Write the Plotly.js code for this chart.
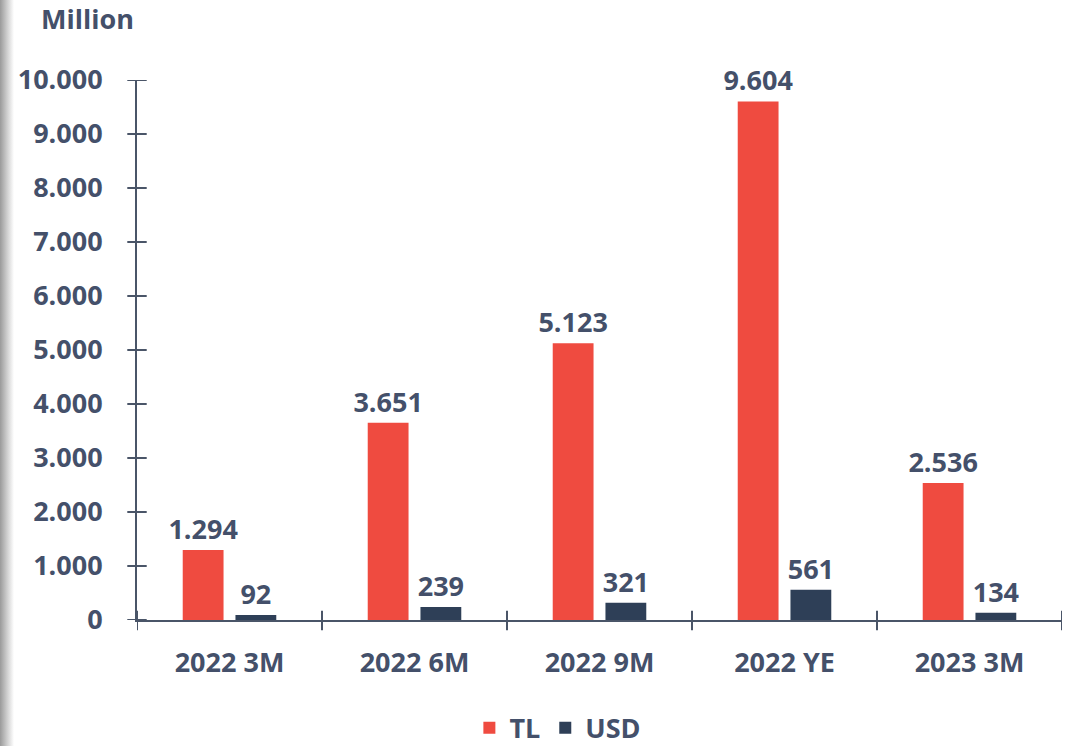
<!DOCTYPE html>
<html><head><meta charset="utf-8">
<script src="https://cdn.plot.ly/plotly-3.0.1.min.js"></script>
<style>
html,body{margin:0;padding:0;background:#fff;}
#wrap{position:relative;width:1069px;height:746px;}
#shade{position:absolute;left:0;top:0;width:14px;height:746px;background:linear-gradient(to right,#9a9a9a,#d8d8d8 60%,#fff);z-index:2;}
#chart{position:absolute;left:0;top:0;width:1069px;height:746px;}
</style></head>
<body><div id="wrap"><div id="shade"></div><div id="chart"></div></div>
<script>
const categories = ['2022 3M','2022 6M','2022 9M','2022 YE','2023 3M'];
const tlValues = [1294, 3651, 5123, 9604, 2536];
const usdValues = [92, 239, 321, 561, 134];
const yTicks = [0,1000,2000,3000,4000,5000,6000,7000,8000,9000,10000];

const txt = '#44506A';
const axc = '#4A5568';
const fnt = {family:'Open Sans, sans-serif', size:27, color:txt, weight:700};

const traces = [
  {type:'bar', name:'TL', x:categories, y:tlValues, marker:{color:'#EF4B40'},
   text:tlValues, texttemplate:'%{y:,.0f}', textposition:'outside', cliponaxis:false, constraintext:'none',
   textfont:fnt, hoverinfo:'skip'},
  {type:'bar', name:'USD', x:categories, y:usdValues, marker:{color:'#2E3F57'},
   text:usdValues, texttemplate:'%{y:,.0f}', textposition:'outside', cliponaxis:false, constraintext:'none',
   textfont:fnt, hoverinfo:'skip'}
];

// cross-style tick marks (straddling the axis lines), positioned via the axes
const shapes = [];
yTicks.forEach(v => shapes.push({type:'line', xref:'paper', yref:'y', x0:-0.0105, x1:0.0105, y0:v, y1:v,
  line:{color:axc, width:2}}));
for (let i = 0; i <= categories.length; i++) {
  shapes.push({type:'line', xref:'x', yref:'paper', x0:i-0.5, x1:i-0.5, y0:-0.019, y1:0.017,
    line:{color:axc, width:2}});
}

const layout = {
  width:1069, height:746,
  margin:{l:137, r:7, t:80, b:126, autoexpand:false},
  paper_bgcolor:'#fff', plot_bgcolor:'#fff',
  separators:',.',
  font:fnt,
  barmode:'group', bargap:0.43, bargroupgap:0.226,
  showlegend:true,
  legend:{orientation:'h', x:0.455, xanchor:'center', yref:'container', y:0.024, yanchor:'middle', font:fnt},
  xaxis:{type:'category', categoryorder:'array', categoryarray:categories, range:[-0.5,4.5], automargin:false,
    ticks:'', showline:true, linecolor:axc, linewidth:2, showgrid:false, zeroline:false,
    tickfont:fnt, ticklabelstandoff:18, fixedrange:true},
  yaxis:{range:[0,10000], tickvals:yTicks, tickformat:',.0f', ticks:'', automargin:false,
    showline:true, linecolor:axc, linewidth:2, showgrid:false, zeroline:false,
    tickfont:fnt, ticklabelstandoff:27, fixedrange:true},
  shapes: shapes,
  annotations:[{text:'Million', xref:'paper', yref:'paper', x:-0.106, y:1.113, xanchor:'left', yanchor:'middle',
    showarrow:false, font:fnt}]
};

Plotly.newPlot('chart', traces, layout, {staticPlot:true, displayModeBar:false});
</script></body></html>
